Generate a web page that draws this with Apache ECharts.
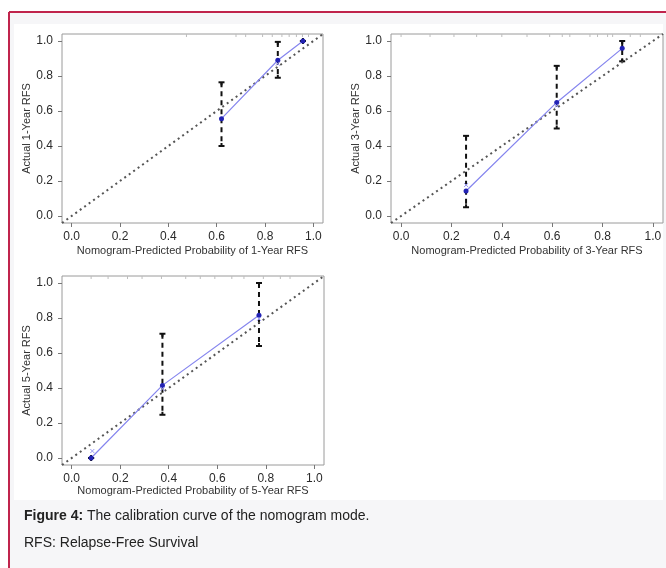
<!DOCTYPE html>
<html>
<head>
<meta charset="utf-8">
<script src="https://cdn.jsdelivr.net/npm/echarts@6/dist/echarts.min.js"></script>
<style>
  html, body { margin: 0; padding: 0; background: #fff; }
  #chart { width: 666px; height: 568px; }
</style>
</head>
<body>
<div id="chart"></div>
<script>
// tick labels shared by every panel
const ticks = [0, 0.2, 0.4, 0.6, 0.8, 1.0];
const diag = [[-0.04, -0.04], [1.04, 1.04]];

// 1-year RFS
const pred1 = [0.62, 0.853, 0.957];
const obs1 = [0.556, 0.89, 1.0];
const lo1 = [0.40, 0.79, 1.0];
const hi1 = [0.764, 0.995, 1.0];
const corr1 = [[0.853, 0.87]];
const rug1 = [0.475, 0.68, 0.72, 0.79, 0.83, 0.87, 0.9, 0.93, 0.955, 0.98];

// 3-year RFS
const pred3 = [0.258, 0.618, 0.878];
const obs3 = [0.143, 0.649, 0.958];
const lo3 = [0.05, 0.50, 0.884];
const hi3 = [0.458, 0.858, 1.0];
const corr3 = [[0.258, 0.177], [0.618, 0.63]];
const rug3 = [0.0, 0.115, 0.21, 0.3, 0.4, 0.5, 0.59, 0.64, 0.67, 0.75, 0.78, 0.82, 0.84, 0.91, 0.95];

// 5-year RFS
const pred5 = [0.08, 0.374, 0.772];
const obs5 = [0.0, 0.415, 0.816];
const lo5 = [0.0, 0.247, 0.64];
const hi5 = [0.0, 0.71, 1.0];
const corr5 = [[0.085, 0.04], [0.374, 0.395], [0.772, 0.795]];
const rug5 = [0.08, 0.15, 0.23, 0.29, 0.37, 0.47, 0.53, 0.59, 0.66, 0.71, 0.79, 0.86, 0.9];

const FONT = "'Liberation Sans', Arial, sans-serif";

const panels = [
  { pred: pred1, obs: obs1, lo: lo1, hi: hi1, corr: corr1, rug: rug1, label: '1-Year', xGap: 22,
    grid: { left: 62, top: 34, width: 261, height: 189 } },
  { pred: pred3, obs: obs3, lo: lo3, hi: hi3, corr: corr3, rug: rug3, label: '3-Year', xGap: 22,
    grid: { left: 391, top: 34, width: 272, height: 189 } },
  { pred: pred5, obs: obs5, lo: lo5, hi: hi5, corr: corr5, rug: rug5, label: '5-Year', xGap: 20,
    grid: { left: 62, top: 276, width: 262, height: 189 } }
];

function errRender(params, api) {
  const x = api.value(0);
  const top = api.coord([x, api.value(2)]);
  const bot = api.coord([x, api.value(1)]);
  const w = 3;
  const st = { stroke: '#111', lineWidth: 2 };
  return {
    type: 'group',
    children: [
      { type: 'line', shape: { x1: top[0], y1: top[1], x2: bot[0], y2: bot[1] },
        style: { stroke: '#111', lineWidth: 2, lineDash: [5, 4] } },
      { type: 'line', shape: { x1: top[0] - w, y1: top[1], x2: top[0] + w, y2: top[1] }, style: st },
      { type: 'line', shape: { x1: top[0], y1: top[1], x2: top[0], y2: top[1] + 3 }, style: st },
      { type: 'line', shape: { x1: bot[0] - w, y1: bot[1], x2: bot[0] + w, y2: bot[1] }, style: st },
      { type: 'line', shape: { x1: bot[0], y1: bot[1], x2: bot[0], y2: bot[1] - 3 }, style: st }
    ]
  };
}

function rugRender(params, api) {
  const p = api.coord([api.value(0), 1.04]);
  return { type: 'line', shape: { x1: p[0], y1: p[1], x2: p[0], y2: p[1] + 3 },
    style: { stroke: '#bdbdbd', lineWidth: 1 } };
}

function crossRender(params, api) {
  const p = api.coord([api.value(0), api.value(1)]);
  const s = 2;
  const st = { stroke: '#9c9cf2', lineWidth: 1 };
  return { type: 'group', children: [
    { type: 'line', shape: { x1: p[0] - s, y1: p[1] - s, x2: p[0] + s, y2: p[1] + s }, style: st },
    { type: 'line', shape: { x1: p[0] - s, y1: p[1] + s, x2: p[0] + s, y2: p[1] - s }, style: st }
  ]};
}

const grids = [], xAxes = [], yAxes = [], series = [];
panels.forEach((p, i) => {
  grids.push(Object.assign({ show: true, backgroundColor: '#fff', borderColor: '#9a9a9a', borderWidth: 1 }, p.grid));
  const axisBase = {
    type: 'value', min: -0.04, max: 1.04, gridIndex: i,
    axisLine: { show: false, onZero: false },
    splitLine: { show: false },
    axisTick: { show: true, length: 4, customValues: ticks, lineStyle: { color: '#777' } },
    axisLabel: { customValues: ticks, formatter: v => v.toFixed(1), color: '#2a2a2a',
      fontFamily: FONT, fontSize: 12 },
    nameLocation: 'middle',
    nameTextStyle: { color: '#333', fontFamily: FONT, fontSize: 11 }
  };
  xAxes.push(Object.assign({}, axisBase, {
    name: 'Nomogram-Predicted Probability of ' + p.label + ' RFS', nameGap: p.xGap,
    axisLabel: Object.assign({}, axisBase.axisLabel, { margin: 8 })
  }));
  yAxes.push(Object.assign({}, axisBase, {
    name: 'Actual ' + p.label + ' RFS', nameGap: 30,
    axisLabel: Object.assign({}, axisBase.axisLabel, { margin: 9 })
  }));
  const ax = { xAxisIndex: i, yAxisIndex: i };
  series.push(Object.assign({
    type: 'custom', renderItem: rugRender, silent: true,
    data: p.rug.map(v => [v]), encode: { x: 0 }
  }, ax));
  series.push(Object.assign({
    type: 'line', data: diag, symbol: 'none', silent: true,
    lineStyle: { color: '#555', width: 2, type: [2, 3.5] }
  }, ax));
  series.push(Object.assign({
    type: 'line', data: p.pred.map((x, k) => [x, p.obs[k]]), silent: true,
    symbol: 'circle', symbolSize: 5,
    lineStyle: { color: '#8585ee', width: 1.2 },
    itemStyle: { color: '#2222b4' }
  }, ax));
  series.push(Object.assign({
    type: 'custom', renderItem: errRender, silent: true,
    data: p.pred.map((x, k) => [x, p.lo[k], p.hi[k]]), encode: { x: 0, y: [1, 2] }, z: 3
  }, ax));
  series.push(Object.assign({
    type: 'custom', renderItem: crossRender, silent: true,
    data: p.corr, encode: { x: 0, y: 1 }, z: 4
  }, ax));
});

const chart = echarts.init(document.getElementById('chart'));
chart.setOption({
  animation: false,
  backgroundColor: '#fff',
  graphic: [
    { type: 'rect', shape: { x: 9, y: 12, width: 657, height: 556 }, style: { fill: '#f6f6f8' }, z: -10 },
    { type: 'rect', shape: { x: 14, y: 24, width: 649, height: 476 }, style: { fill: '#ffffff' }, z: -9 },
    { type: 'line', shape: { x1: 9, y1: 12, x2: 666, y2: 12 }, style: { stroke: '#c0244c', lineWidth: 2 }, z: -8 },
    { type: 'line', shape: { x1: 9, y1: 12, x2: 9, y2: 568 }, style: { stroke: '#c0244c', lineWidth: 2 }, z: -8 },
    { type: 'text', left: 24, top: 509, z: 10,
      style: { text: '{b|Figure 4:} The calibration curve of the nomogram mode.',
        font: '14px ' + FONT, fill: '#222',
        rich: { b: { fontWeight: 'bold', fontSize: 14, fontFamily: FONT, fill: '#222' } } } },
    { type: 'text', left: 24, top: 536, z: 10,
      style: { text: 'RFS: Relapse-Free Survival', font: '14px ' + FONT, fill: '#222' } }
  ],
  grid: grids,
  xAxis: xAxes,
  yAxis: yAxes,
  series: series
});
</script>
</body>
</html>
